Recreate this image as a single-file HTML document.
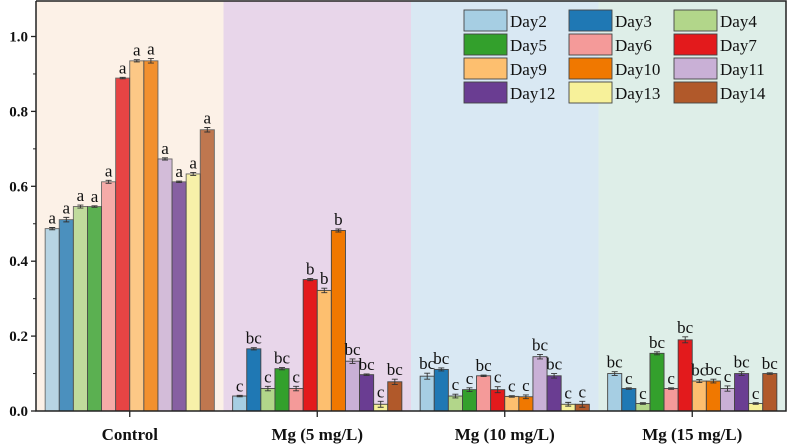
<!DOCTYPE html>
<html><head><meta charset="utf-8"><style>
body{margin:0;background:#fff;}
svg{display:block;}
svg text{font-family:"Liberation Serif","DejaVu Serif",serif;}
</style></head><body>
<svg id="c" width="787" height="444" xmlns="http://www.w3.org/2000/svg"></svg>
<script>
const groups=["Control","Mg (5 mg/L)","Mg (10 mg/L)","Mg (15 mg/L)"];
const days=["Day2","Day3","Day4","Day5","Day6","Day7","Day9","Day10","Day11","Day12","Day13","Day14"];
const colors=["#a6cee3","#1f78b4","#b2d68a","#33a02c","#f49a99","#e31a1c","#fdbf6f","#f07800","#c9b0d6","#6a3d92","#f7f19a","#b1592a"];
const valsControl=[0.487,0.511,0.546,0.546,0.612,0.889,0.935,0.935,0.673,0.612,0.633,0.751];
const valsMg5=[0.040,0.166,0.060,0.113,0.060,0.351,0.322,0.482,0.133,0.097,0.018,0.078];
const valsMg10=[0.093,0.111,0.040,0.057,0.094,0.057,0.039,0.038,0.145,0.094,0.018,0.018];
const valsMg15=[0.100,0.060,0.020,0.154,0.060,0.190,0.080,0.080,0.060,0.100,0.020,0.100];
const errControl=[0.003,0.006,0.004,0.002,0.004,0.002,0.003,0.006,0.003,0.002,0.004,0.006];
const errMg5=[0.002,0.003,0.006,0.003,0.006,0.003,0.006,0.004,0.006,0.002,0.008,0.007];
const errMg10=[0.008,0.004,0.005,0.005,0.002,0.008,0.002,0.005,0.006,0.006,0.005,0.008];
const errMg15=[0.005,0.002,0.002,0.004,0.002,0.008,0.004,0.005,0.007,0.005,0.002,0.002];
const lblControl=["a","a","a","a","a","a","a","a","a","a","a","a"];
const lblMg5=["c","bc","c","bc","c","b","b","b","bc","bc","c","bc"];
const lblMg10=["bc","bc","c","c","bc","c","c","c","bc","bc","c","c"];
const lblMg15=["bc","c","c","bc","c","bc","bc","bc","c","bc","c","bc"];
const yTicks=[0,0.2,0.4,0.6,0.8,1.0];
const bandColors=["#fcf1e7","#e8d6ea","#d9e8f3","#deeee8"];
const vals=[valsControl,valsMg5,valsMg10,valsMg15];
const errs=[errControl,errMg5,errMg10,errMg15];
const lbls=[lblControl,lblMg5,lblMg10,lblMg15];

const NS="http://www.w3.org/2000/svg";
const svg=document.getElementById('c');
const L=36,R=786,T=1,B=411;
const gw=(R-L)/4, pitch=14.1;
const FF='"Liberation Serif", "DejaVu Serif", serif';
const y=v=>B-v*374.5;
const gx=i=>L+gw*i;
const bx=(g,d)=>gx(g)+gw/2-6*pitch+d*pitch;
function el(t,a,p){const e=document.createElementNS(NS,t);for(const k in a)e.setAttribute(k,a[k]);if(t==='text')e.setAttribute('font-family',FF);(p||svg).appendChild(e);return e;}

groups.forEach((g,i)=>{
  const r=el('rect',{x:gx(i),y:T,width:gw,height:B-T,fill:bandColors[i]});
  
  
});
vals.forEach((arr,g)=>{
  arr.forEach((v,d)=>{
    const x=bx(g,d);
    const r=el('rect',{x:x,y:y(v),width:pitch,height:B-y(v),fill:colors[d],stroke:'#444','stroke-width':0.9,opacity:g===0?0.8:1});
    
    
    const cx=x+pitch/2,e=errs[g][d];
    el('path',{d:`M${cx-3} ${y(v+e)}H${cx+3}M${cx} ${y(v+e)}V${y(v-e)}M${cx-3} ${y(v-e)}H${cx+3}`,stroke:'#333','stroke-width':0.9,fill:'none'});
    const t=el('text',{x:cx,y:y(v+e)-4,'text-anchor':'middle','font-size':17,fill:'#111'});
    t.textContent=lbls[g][d];
    
    
  });
});
el('path',{d:`M${L} ${T}V${B}H${R}V${T}H${L}`,stroke:'#222','stroke-width':1.5,fill:'none'});
yTicks.forEach(v=>{
  el('line',{x1:L-5,x2:L,y1:y(v),y2:y(v),stroke:'#222','stroke-width':1.3});
  const t=el('text',{x:L-8,y:y(v)+5,'text-anchor':'end','font-size':15,'font-weight':'bold',fill:'#111'});
  t.textContent=v.toFixed(1);
  
  
});
for(let k=0;k<5;k++){const v=0.1+0.2*k;el('line',{x1:L-3,x2:L,y1:y(v),y2:y(v),stroke:'#222','stroke-width':1});}
groups.forEach((g,i)=>{
  const cx=gx(i)+gw/2;
  el('line',{x1:cx,x2:cx,y1:B,y2:B+6,stroke:'#222','stroke-width':1.3});
  const t=el('text',{x:cx,y:B+29,'text-anchor':'middle','font-size':17,'font-weight':'bold',fill:'#111'});
  t.textContent=g;
  
  
});
const lgX=[464,569,674],lgY=[10,34,58,82];
days.forEach((d,i)=>{
  const c=i%3,r=Math.floor(i/3);
  const s=el('rect',{x:lgX[c],y:lgY[r],width:43,height:21,fill:colors[i],stroke:'#444','stroke-width':0.9});
  
  
  const t=el('text',{x:lgX[c]+46,y:lgY[r]+17,'font-size':17,fill:'#111'});
  t.textContent=d;
  
  
});
</script>
</body></html>
